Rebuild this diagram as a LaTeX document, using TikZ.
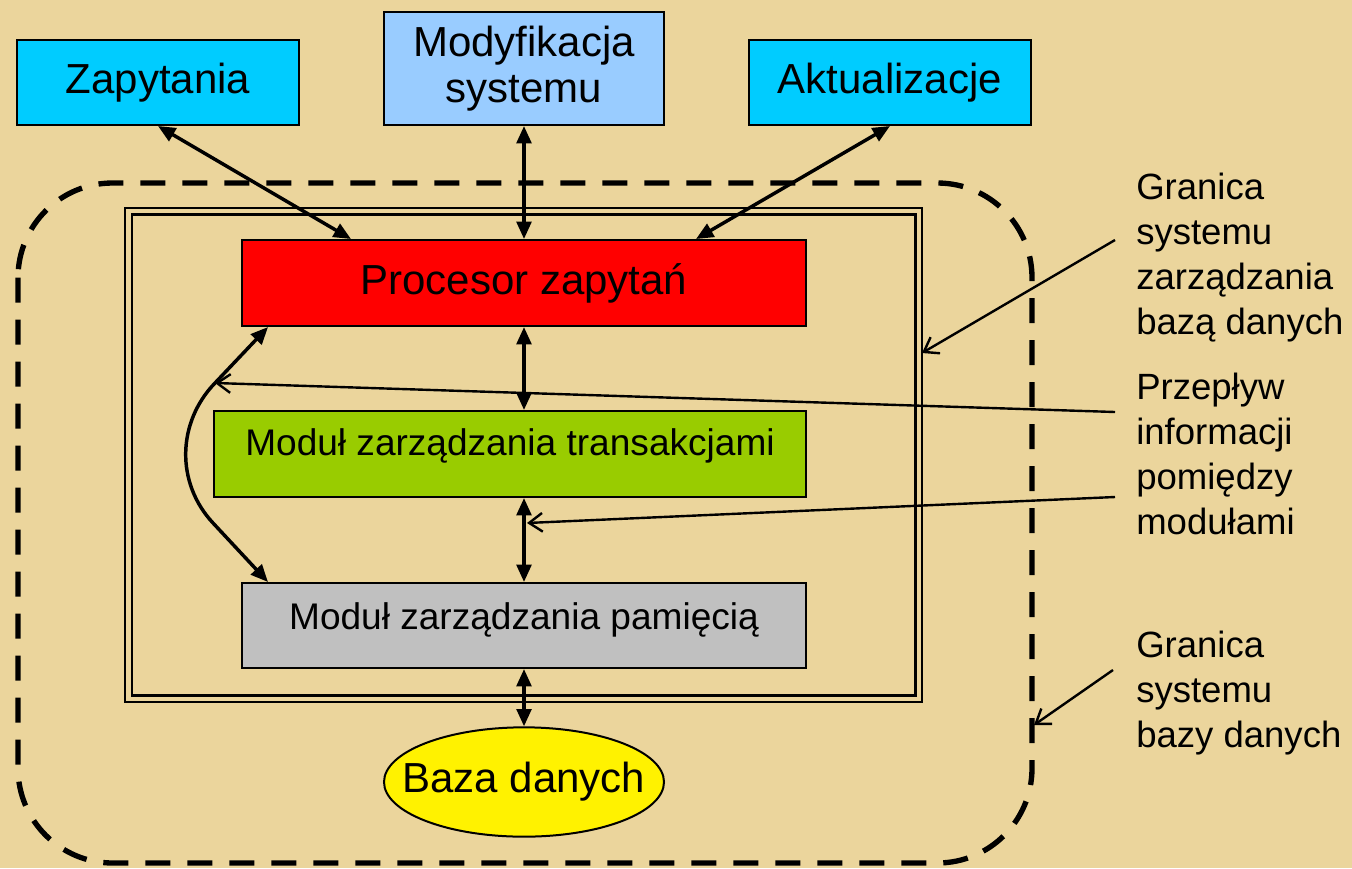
\documentclass[tikz,border=0pt]{standalone}
\usepackage{fontspec}
\setmainfont{Liberation Sans}
\usetikzlibrary{arrows.meta,calc,shapes.geometric}

\definecolor{papyrus}{RGB}{235,213,156}
\definecolor{cyanbox}{RGB}{0,204,255}
\definecolor{skybox}{RGB}{153,204,255}
\definecolor{limebox}{RGB}{153,204,0}
\definecolor{greybox}{RGB}{192,192,192}

\begin{document}
\begin{tikzpicture}[x=0.75pt,y=-0.75pt,
  box/.style={draw=black,line width=1.5pt,inner sep=0pt,align=center},
  bigtxt/.style={font=\fontsize{31.5}{35}\selectfont},
  modtxt/.style={font=\fontsize{27.8}{32}\selectfont},
  note/.style={font=\fontsize{27.4}{33.75}\selectfont,align=left,anchor=base west,inner sep=0pt},
  biarrow/.style={line width=2.6pt,{Triangle[length=13pt,width=11pt]}-{Triangle[length=13pt,width=11pt]}},
  pointer/.style={line width=1.8pt,-{Straight Barb[length=10pt,width=14pt]}},
]
% background and canvas size
\fill[papyrus] (0,0) rectangle (1352,868);
\useasboundingbox (0,0) rectangle (1352,868);

% boundary of the database system
\draw[line width=4pt,dash pattern=on 18.75pt off 12.75pt,rounded corners=71pt]
  (18,183) rectangle (1032,863);

% boundary of the DBMS (double frame)
\draw[line width=1.5pt] (125,208) rectangle (922,702);
\draw[line width=2.2pt] (132,214.5) rectangle (915.5,695.5);

% inputs
\node[box,fill=cyanbox,minimum width=211.5pt,minimum height=63.75pt,bigtxt] (zap) at (158,82.5) {Zapytania};
\node[box,fill=skybox,minimum width=210pt,minimum height=84.75pt,bigtxt] (mod) at (524,68.5) {Modyfikacja\\systemu};
\node[box,fill=cyanbox,minimum width=211.5pt,minimum height=63.75pt,bigtxt] (akt) at (890,82.5) {Aktualizacje};

% modules
\node[box,fill=red,minimum width=423pt,minimum height=64.5pt,bigtxt] (proc) at (524,283) {Procesor zapytań};
\node[box,fill=limebox,minimum width=444pt,minimum height=64.5pt,modtxt,text depth=18pt] (trans) at (510,454) {Moduł zarządzania transakcjami};
\node[box,fill=greybox,minimum width=423pt,minimum height=63.75pt,modtxt,text depth=14pt] (pam) at (524,625.5) {Moduł zarządzania pamięcią};
\node[ellipse,draw=black,line width=1.5pt,fill=yellow,minimum width=210pt,minimum height=82pt,inner sep=0pt,bigtxt] (db) at (524,782) {\makebox[0pt]{Baza danych}};

% information flow
\draw[biarrow] (zap.south) -- ($(proc.north west)+(110,0)$);
\draw[biarrow] (mod.south) -- (proc.north);
\draw[biarrow] (akt.south) -- ($(proc.north east)+(-111,0)$);
\draw[biarrow] (proc.south) -- (proc.south |- trans.north);
\draw[biarrow] (proc.south |- trans.south) -- (pam.north);
\draw[biarrow] (pam.south) -- (db.north);

\coordinate (bendA) at (215,383);
\coordinate (bendB) at (213,523);
\draw[biarrow] ($(proc.south west)+(27,0)$) -- (bendA) to[out=226,in=133] (bendB) -- ($(pam.north west)+(27,0)$);

% side notes (anchored on the baseline of their last line)
\node[note] (lab1) at (1136,334) {Granica\\systemu\\zarządzania\\bazą danych};
\node[note] (lab2) at (1136,534) {Przepływ\\informacji\\pomiędzy\\modułami};
\node[note] (lab3) at (1136,747) {Granica\\systemu\\bazy danych};

\coordinate (n1) at (1115,240);
\coordinate (n2) at (1115,412);
\coordinate (n3) at (1115,497);
\coordinate (n4) at (1113,670);
\coordinate (frameE) at (922,353);
\coordinate (flowB) at (527,523);
\coordinate (outerE) at (1034,725);

\draw[pointer] (n1) -- (frameE);
\draw[pointer] (n2) -- (bendA);
\draw[pointer] (n3) -- (flowB);
\draw[pointer] (n4) -- (outerE);
\end{tikzpicture}
\end{document}
